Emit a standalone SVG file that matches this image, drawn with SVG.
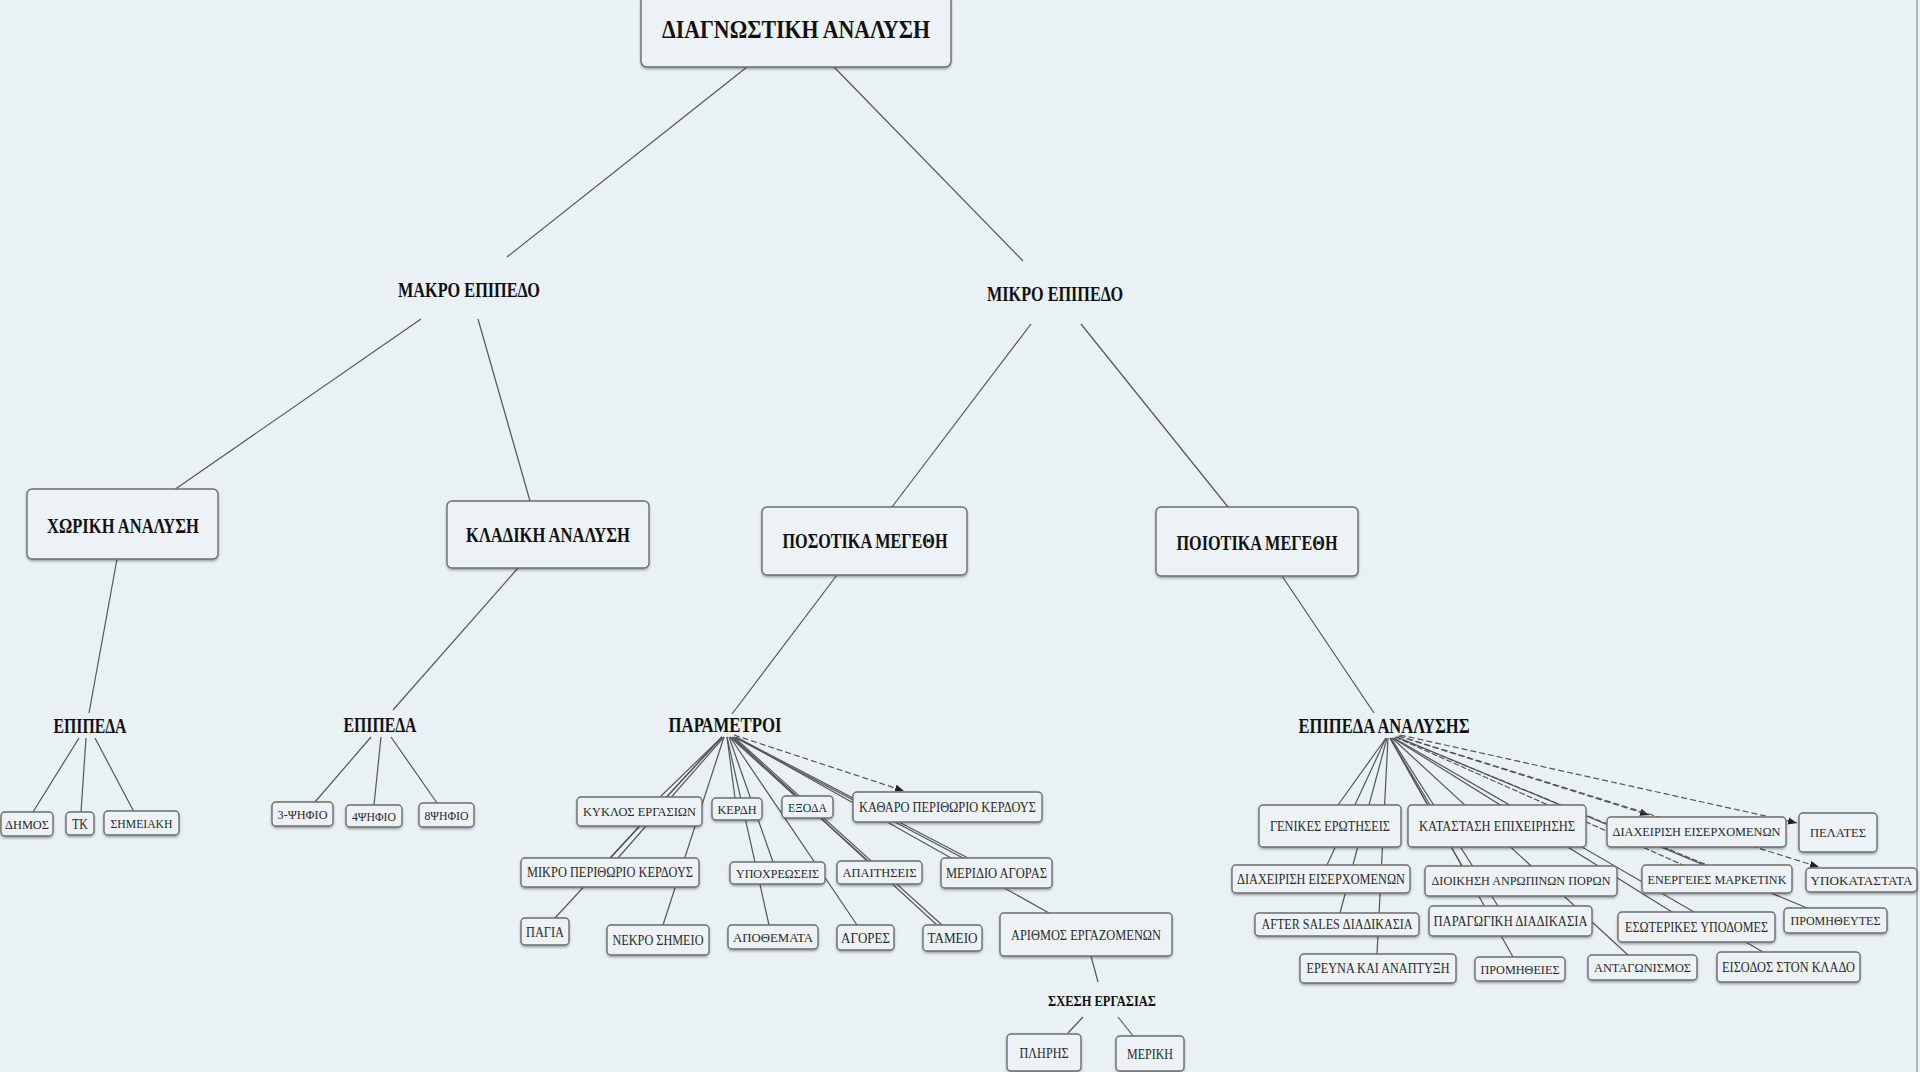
<svg xmlns="http://www.w3.org/2000/svg" width="1920" height="1072" viewBox="0 0 1920 1072">
<style>
.bg{fill:#EAF1F4}
.bx{fill:#ECF2F5;stroke:#6E6E6E;stroke-width:1.4;filter:url(#sh)}
.t{font-family:"Liberation Serif","Times New Roman",serif;text-anchor:middle;fill:#2a2a2a}
.h1{font-size:25px;font-weight:bold;fill:#111}
.h2{font-size:20px;font-weight:bold;fill:#111}
.h3{font-size:15px;font-weight:bold;fill:#111}
.s{font-size:15px}
.s2{font-size:13px}
.c{stroke:#555;stroke-width:1.2;fill:none}
.d{stroke-dasharray:6 3;marker-end:url(#ah)}
</style>
<defs>
<filter id="sh" x="-5%" y="-10%" width="110%" height="130%"><feDropShadow dx="0" dy="1.5" stdDeviation="0.8" flood-color="#000" flood-opacity="0.35"/></filter>
<marker id="ah" viewBox="0 0 10 10" refX="10" refY="5" markerWidth="9" markerHeight="9" orient="auto" markerUnits="userSpaceOnUse"><path d="M0,1 L10,5 L0,9 z" fill="#222"/></marker>
</defs>
<rect class="bg" x="0" y="0" width="1920" height="1072"/>
<line x1="1917" y1="0" x2="1917" y2="1072" stroke="#9AA3A6" stroke-width="1.5"/>

<g id="connectors">
<line class="c" x1="747" y1="67" x2="507" y2="257"/>
<line class="c" x1="834" y1="67" x2="1023" y2="261"/>
<line class="c" x1="421" y1="319" x2="174" y2="490"/>
<line class="c" x1="478" y1="319" x2="530" y2="501"/>
<line class="c" x1="1031" y1="324" x2="892" y2="507"/>
<line class="c" x1="1081" y1="324" x2="1228" y2="507"/>
<line class="c" x1="117" y1="559" x2="89" y2="713"/>
<line class="c" x1="79" y1="738" x2="33" y2="812"/>
<line class="c" x1="86" y1="738" x2="81" y2="812"/>
<line class="c" x1="95" y1="738" x2="134" y2="812"/>
<line class="c" x1="518" y1="568" x2="393" y2="710"/>
<line class="c" x1="371" y1="737" x2="315" y2="802"/>
<line class="c" x1="381" y1="737" x2="374" y2="805"/>
<line class="c" x1="391" y1="737" x2="437" y2="803"/>
<line class="c" x1="837" y1="575" x2="732" y2="714"/>
<line class="c" x1="1282" y1="576" x2="1374" y2="713"/>
<line class="c" x1="722" y1="737" x2="660" y2="797"/>
<line class="c" x1="722" y1="737" x2="610" y2="858"/>
<line class="c" x1="724" y1="737" x2="618" y2="858"/>
<line class="c" x1="722" y1="737" x2="555" y2="918"/>
<line class="c" x1="724" y1="737" x2="663" y2="925"/>
<line class="c" x1="727" y1="737" x2="735" y2="798"/>
<line class="c" x1="729" y1="737" x2="773" y2="862"/>
<line class="c" x1="727" y1="737" x2="769" y2="925"/>
<line class="c" x1="730" y1="737" x2="795" y2="796"/>
<line class="c" x1="730" y1="737" x2="857" y2="925"/>
<line class="c" x1="732" y1="737" x2="868" y2="861"/>
<line class="c" x1="732" y1="737" x2="937" y2="925"/>
<line class="c" x1="734" y1="737" x2="942" y2="925"/>
<line class="c d" x1="734" y1="735" x2="904" y2="791"/>
<line class="c" x1="734" y1="737" x2="963" y2="858"/>
<line class="c" x1="736" y1="737" x2="968" y2="858"/>
<line class="c" x1="736" y1="737" x2="1049" y2="913"/>
<line class="c" x1="1091" y1="956" x2="1098" y2="982"/>
<line class="c" x1="1083" y1="1017" x2="1068" y2="1033"/>
<line class="c" x1="1118" y1="1017" x2="1134" y2="1037"/>
<line class="c" x1="1386" y1="738" x2="1338" y2="805"/>
<line class="c" x1="1386" y1="738" x2="1327" y2="865"/>
<line class="c" x1="1387" y1="738" x2="1340" y2="913"/>
<line class="c" x1="1388" y1="738" x2="1377" y2="954"/>
<line class="c" x1="1390" y1="738" x2="1430" y2="805"/>
<line class="c" x1="1390" y1="738" x2="1462" y2="866"/>
<line class="c" x1="1391" y1="738" x2="1498" y2="906"/>
<line class="c" x1="1390" y1="738" x2="1513" y2="957"/>
<line class="c" x1="1392" y1="738" x2="1628" y2="955"/>
<line class="c" x1="1393" y1="738" x2="1672" y2="912"/>
<line class="c" x1="1394" y1="738" x2="1763" y2="952"/>
<line class="c" x1="1395" y1="737" x2="1683" y2="865" stroke-dasharray="6 2"/>
<line class="c" x1="1396" y1="737" x2="1707" y2="865" stroke-dasharray="6 2"/>
<line class="c" x1="1397" y1="737" x2="1807" y2="908"/>
<line class="c d" x1="1398" y1="736" x2="1649" y2="815"/>
<line class="c d" x1="1400" y1="735" x2="1797" y2="823"/>
<line class="c d" x1="1399" y1="736" x2="1819" y2="867"/>
</g>

<g id="n-root"><rect class="bx" x="641" y="-6" width="310" height="73" rx="6"/><text class="t h1" x="796" y="38" textLength="268" lengthAdjust="spacingAndGlyphs">ΔΙΑΓΝΩΣΤΙΚΗ ΑΝΑΛΥΣΗ</text></g>
<g id="n-makro"><text class="t h2" x="469" y="297" textLength="142" lengthAdjust="spacingAndGlyphs">ΜΑΚΡΟ ΕΠΙΠΕΔΟ</text></g>
<g id="n-mikro"><text class="t h2" x="1055" y="301" textLength="136" lengthAdjust="spacingAndGlyphs">ΜΙΚΡΟ ΕΠΙΠΕΔΟ</text></g>
<g id="n-xoriki"><rect class="bx" x="27" y="489" width="191" height="70" rx="5"/><text class="t h2" x="123" y="533" textLength="152" lengthAdjust="spacingAndGlyphs">ΧΩΡΙΚΗ ΑΝΑΛΥΣΗ</text></g>
<g id="n-kladiki"><rect class="bx" x="447" y="501" width="202" height="67" rx="5"/><text class="t h2" x="548" y="542" textLength="164" lengthAdjust="spacingAndGlyphs">ΚΛΑΔΙΚΗ ΑΝΑΛΥΣΗ</text></g>
<g id="n-posotika"><rect class="bx" x="762" y="507" width="205" height="68" rx="5"/><text class="t h2" x="865" y="548" textLength="165" lengthAdjust="spacingAndGlyphs">ΠΟΣΟΤΙΚΑ ΜΕΓΕΘΗ</text></g>
<g id="n-poiotika"><rect class="bx" x="1156" y="507" width="202" height="69" rx="5"/><text class="t h2" x="1257" y="550" textLength="161" lengthAdjust="spacingAndGlyphs">ΠΟΙΟΤΙΚΑ ΜΕΓΕΘΗ</text></g>
<g id="n-epipeda1"><text class="t h2" x="90" y="733" textLength="73" lengthAdjust="spacingAndGlyphs">ΕΠΙΠΕΔΑ</text></g>
<g id="n-epipeda2"><text class="t h2" x="380" y="732" textLength="73" lengthAdjust="spacingAndGlyphs">ΕΠΙΠΕΔΑ</text></g>
<g id="n-parametroi"><text class="t h2" x="725" y="732" textLength="113" lengthAdjust="spacingAndGlyphs">ΠΑΡΑΜΕΤΡΟΙ</text></g>
<g id="n-epipeda-an"><text class="t h2" x="1384" y="733" textLength="171" lengthAdjust="spacingAndGlyphs">ΕΠΙΠΕΔΑ ΑΝΑΛΥΣΗΣ</text></g>
<g id="n-sxesi"><text class="t h3" x="1102" y="1006" textLength="108" lengthAdjust="spacingAndGlyphs">ΣΧΕΣΗ ΕΡΓΑΣΙΑΣ</text></g>

<g id="n-dimos"><rect class="bx" x="1" y="812" width="52" height="24" rx="4"/><text class="t s2" x="27" y="829" textLength="44" lengthAdjust="spacingAndGlyphs">ΔΗΜΟΣ</text></g>
<g id="n-tk"><rect class="bx" x="66" y="812" width="28" height="23" rx="4"/><text class="t s" x="80" y="829" textLength="16" lengthAdjust="spacingAndGlyphs">ΤΚ</text></g>
<g id="n-simeiaki"><rect class="bx" x="104" y="811" width="75" height="24" rx="4"/><text class="t s2" x="141.5" y="828" textLength="62" lengthAdjust="spacingAndGlyphs">ΣΗΜΕΙΑΚΗ</text></g>
<g id="n-psif3"><rect class="bx" x="272" y="802" width="61" height="24" rx="4"/><text class="t s2" x="302.5" y="819" textLength="50" lengthAdjust="spacingAndGlyphs">3-ΨΗΦΙΟ</text></g>
<g id="n-psif4"><rect class="bx" x="346" y="805" width="56" height="22" rx="4"/><text class="t s2" x="374" y="821" textLength="44" lengthAdjust="spacingAndGlyphs">4ΨΗΦΙΟ</text></g>
<g id="n-psif8"><rect class="bx" x="419" y="803" width="55" height="24" rx="4"/><text class="t s2" x="446.5" y="820" textLength="44" lengthAdjust="spacingAndGlyphs">8ΨΗΦΙΟ</text></g>

<g id="n-kyklos"><rect class="bx" x="577" y="797" width="125" height="29" rx="4"/><text class="t s2" x="639.5" y="816" textLength="113" lengthAdjust="spacingAndGlyphs">ΚΥΚΛΟΣ ΕΡΓΑΣΙΩΝ</text></g>
<g id="n-kerdi"><rect class="bx" x="712" y="798" width="50" height="22" rx="4"/><text class="t s2" x="737" y="814" textLength="39" lengthAdjust="spacingAndGlyphs">ΚΕΡΔΗ</text></g>
<g id="n-exoda"><rect class="bx" x="782" y="796" width="51" height="22" rx="4"/><text class="t s2" x="807.5" y="812" textLength="39" lengthAdjust="spacingAndGlyphs">ΕΞΟΔΑ</text></g>
<g id="n-katharo"><rect class="bx" x="853" y="792" width="189" height="30" rx="4"/><text class="t s" x="947.5" y="812" textLength="177" lengthAdjust="spacingAndGlyphs">ΚΑΘΑΡΟ ΠΕΡΙΘΩΡΙΟ ΚΕΡΔΟΥΣ</text></g>
<g id="n-mikroper"><rect class="bx" x="521" y="858" width="178" height="29" rx="4"/><text class="t s" x="610" y="877" textLength="166" lengthAdjust="spacingAndGlyphs">ΜΙΚΡΟ ΠΕΡΙΘΩΡΙΟ ΚΕΡΔΟΥΣ</text></g>
<g id="n-ypoxr"><rect class="bx" x="730" y="862" width="95" height="22" rx="4"/><text class="t s2" x="777.5" y="878" textLength="83" lengthAdjust="spacingAndGlyphs">ΥΠΟΧΡΕΩΣΕΙΣ</text></g>
<g id="n-apaitiseis"><rect class="bx" x="837" y="861" width="85" height="23" rx="4"/><text class="t s2" x="879.5" y="877" textLength="74" lengthAdjust="spacingAndGlyphs">ΑΠΑΙΤΗΣΕΙΣ</text></g>
<g id="n-meridio"><rect class="bx" x="941" y="858" width="111" height="30" rx="4"/><text class="t s" x="996.5" y="878" textLength="101" lengthAdjust="spacingAndGlyphs">ΜΕΡΙΔΙΟ ΑΓΟΡΑΣ</text></g>
<g id="n-pagia"><rect class="bx" x="521" y="918" width="48" height="27" rx="4"/><text class="t s" x="545" y="937" textLength="38" lengthAdjust="spacingAndGlyphs">ΠΑΓΙΑ</text></g>
<g id="n-nekro"><rect class="bx" x="607" y="925" width="102" height="30" rx="4"/><text class="t s" x="658" y="945" textLength="91" lengthAdjust="spacingAndGlyphs">ΝΕΚΡΟ ΣΗΜΕΙΟ</text></g>
<g id="n-apothemata"><rect class="bx" x="728" y="925" width="90" height="24" rx="4"/><text class="t s2" x="773" y="942" textLength="80" lengthAdjust="spacingAndGlyphs">ΑΠΟΘΕΜΑΤΑ</text></g>
<g id="n-agores"><rect class="bx" x="837" y="925" width="57" height="25" rx="4"/><text class="t s" x="865.5" y="943" textLength="49" lengthAdjust="spacingAndGlyphs">ΑΓΟΡΕΣ</text></g>
<g id="n-tameio"><rect class="bx" x="923" y="925" width="59" height="26" rx="4"/><text class="t s" x="952.5" y="943" textLength="50" lengthAdjust="spacingAndGlyphs">ΤΑΜΕΙΟ</text></g>
<g id="n-arithmos"><rect class="bx" x="1000" y="913" width="172" height="43" rx="4"/><text class="t s" x="1086" y="940" textLength="150" lengthAdjust="spacingAndGlyphs">ΑΡΙΘΜΟΣ ΕΡΓΑΖΟΜΕΝΩΝ</text></g>
<g id="n-pliris"><rect class="bx" x="1007" y="1034" width="74" height="37" rx="4"/><text class="t s" x="1044" y="1058" textLength="49" lengthAdjust="spacingAndGlyphs">ΠΛΗΡΗΣ</text></g>
<g id="n-meriki"><rect class="bx" x="1116" y="1036" width="68" height="35" rx="4"/><text class="t s" x="1150" y="1059" textLength="46" lengthAdjust="spacingAndGlyphs">ΜΕΡΙΚΗ</text></g>

<g id="n-genikes"><rect class="bx" x="1259" y="805" width="142" height="42" rx="4"/><text class="t s" x="1330" y="831" textLength="120" lengthAdjust="spacingAndGlyphs">ΓΕΝΙΚΕΣ ΕΡΩΤΗΣΕΙΣ</text></g>
<g id="n-katastasi"><rect class="bx" x="1408" y="805" width="178" height="42" rx="4"/><text class="t s" x="1497" y="831" textLength="156" lengthAdjust="spacingAndGlyphs">ΚΑΤΑΣΤΑΣΗ ΕΠΙΧΕΙΡΗΣΗΣ</text></g>
<g id="n-diax-r"><rect class="bx" x="1607" y="817" width="179" height="30" rx="4"/><text class="t s2" x="1696.5" y="836" textLength="168" lengthAdjust="spacingAndGlyphs">ΔΙΑΧΕΙΡΙΣΗ ΕΙΣΕΡΧΟΜΕΝΩΝ</text></g>
<g id="n-pelates"><rect class="bx" x="1799" y="813" width="78" height="39" rx="4"/><text class="t s2" x="1838" y="837" textLength="56" lengthAdjust="spacingAndGlyphs">ΠΕΛΑΤΕΣ</text></g>
<g id="n-diax-l"><rect class="bx" x="1232" y="865" width="178" height="28" rx="4"/><text class="t s" x="1321" y="884" textLength="168" lengthAdjust="spacingAndGlyphs">ΔΙΑΧΕΙΡΙΣΗ ΕΙΣΕΡΧΟΜΕΝΩΝ</text></g>
<g id="n-dioikisi"><rect class="bx" x="1425" y="866" width="192" height="30" rx="4"/><text class="t s2" x="1521" y="885" textLength="179" lengthAdjust="spacingAndGlyphs">ΔΙΟΙΚΗΣΗ ΑΝΡΩΠΙΝΩΝ ΠΟΡΩΝ</text></g>
<g id="n-energeies"><rect class="bx" x="1642" y="865" width="150" height="28" rx="4"/><text class="t s2" x="1717" y="884" textLength="139" lengthAdjust="spacingAndGlyphs">ΕΝΕΡΓΕΙΕΣ ΜΑΡΚΕΤΙΝΚ</text></g>
<g id="n-ypokat"><rect class="bx" x="1806" y="868" width="111" height="24" rx="4"/><text class="t s2" x="1861.5" y="885" textLength="102" lengthAdjust="spacingAndGlyphs">ΥΠΟΚΑΤΑΣΤΑΤΑ</text></g>
<g id="n-aftersales"><rect class="bx" x="1255" y="913" width="164" height="23" rx="4"/><text class="t s" x="1337" y="929" textLength="151" lengthAdjust="spacingAndGlyphs">AFTER SALES ΔΙΑΔΙΚΑΣΙΑ</text></g>
<g id="n-paragogiki"><rect class="bx" x="1429" y="906" width="163" height="30" rx="4"/><text class="t s" x="1510.5" y="926" textLength="154" lengthAdjust="spacingAndGlyphs">ΠΑΡΑΓΩΓΙΚΗ ΔΙΑΔΙΚΑΣΙΑ</text></g>
<g id="n-esoterikes"><rect class="bx" x="1618" y="912" width="157" height="30" rx="4"/><text class="t s" x="1696.5" y="932" textLength="143" lengthAdjust="spacingAndGlyphs">ΕΣΩΤΕΡΙΚΕΣ ΥΠΟΔΟΜΕΣ</text></g>
<g id="n-promitheytes"><rect class="bx" x="1784" y="908" width="103" height="25" rx="4"/><text class="t s2" x="1835.5" y="925" textLength="90" lengthAdjust="spacingAndGlyphs">ΠΡΟΜΗΘΕΥΤΕΣ</text></g>
<g id="n-erevna"><rect class="bx" x="1300" y="954" width="156" height="29" rx="4"/><text class="t s" x="1378" y="973" textLength="143" lengthAdjust="spacingAndGlyphs">ΕΡΕΥΝΑ ΚΑΙ ΑΝΑΠΤΥΞΗ</text></g>
<g id="n-promitheies"><rect class="bx" x="1475" y="957" width="90" height="24" rx="4"/><text class="t s2" x="1520" y="974" textLength="79" lengthAdjust="spacingAndGlyphs">ΠΡΟΜΗΘΕΙΕΣ</text></g>
<g id="n-antagonismos"><rect class="bx" x="1588" y="955" width="109" height="25" rx="4"/><text class="t s2" x="1642.5" y="972" textLength="97" lengthAdjust="spacingAndGlyphs">ΑΝΤΑΓΩΝΙΣΜΟΣ</text></g>
<g id="n-eisodos"><rect class="bx" x="1717" y="952" width="143" height="30" rx="4"/><text class="t s" x="1788.5" y="972" textLength="133" lengthAdjust="spacingAndGlyphs">ΕΙΣΟΔΟΣ ΣΤΟΝ ΚΛΑΔΟ</text></g>
</svg>
